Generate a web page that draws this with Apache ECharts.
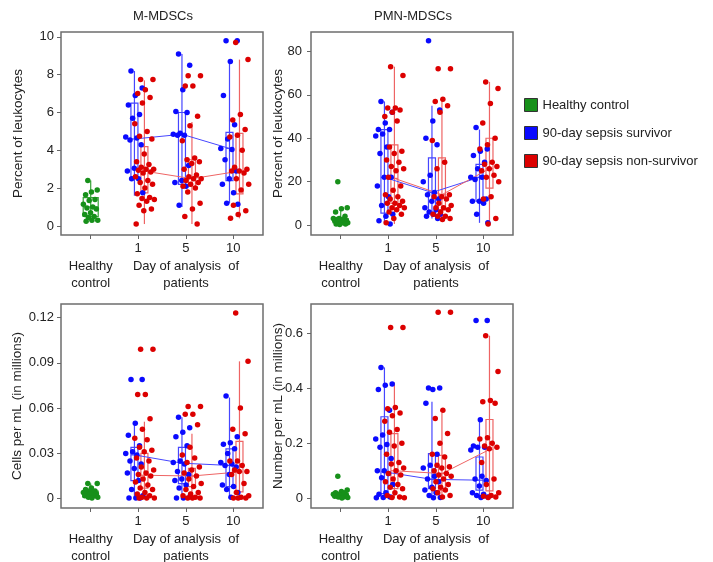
<!DOCTYPE html>
<html>
<head>
<meta charset="utf-8">
<script src="https://cdn.jsdelivr.net/npm/echarts@6/dist/echarts.min.js"></script>
<style>
html, body { margin: 0; background: #fff; }
#chart { width: 713px; height: 562px; }
</style>
</head>
<body>
<div id="chart"></div>
<script>
// group labels on the x axis (healthy + day of analysis)
const groupNames = ['Healthy\ncontrol', '1', '5', '10'];
const xAxisTitle = 'Day of analysis  of\npatients';
const legendNames = ['Healthy control', '90-day sepsis survivor', '90-day sepsis non-survivor'];
const panelTitles = ['M-MDSCs', 'PMN-MDSCs'];
const yNames = ['Percent of leukocytes', 'Percent of leukocytes', 'Cells per mL (in millions)', 'Number per mL (in millions)'];

// y ticks
const ticksA = [0, 2, 4, 6, 8, 10];
const ticksB = [0, 20, 40, 60, 80];
const ticksC = [0, 0.03, 0.06, 0.09, 0.12];
const ticksD = [0, 0.2, 0.4, 0.6];

// ---- M-MDSCs, percent of leukocytes ----
const mPctHealthy = [2.4, 1.9, 1.8, 1.65, 1.4, 1.35, 1.15, 1.0, 0.95, 0.9, 0.7, 0.6, 0.5, 0.45, 0.3, 0.3, 0.25];
const mPctSurv = [
  [8.2, 7.3, 6.9, 6.4, 5.9, 5.7, 4.7, 4.65, 4.55, 4.3, 3.05, 2.9, 2.5, 2.5, 1.75],
  [9.1, 8.5, 7.2, 6.05, 6.0, 4.9, 4.85, 4.8, 4.8, 3.2, 2.4, 2.3, 2.1, 1.1],
  [9.8, 9.8, 8.7, 6.9, 5.35, 4.6, 4.1, 4.05, 3.5, 2.9, 2.5, 2.2, 1.75, 1.2, 1.15]
];
const mPctNon = [
  [7.75, 7.75, 7.2, 7.0, 6.8, 6.5, 5.4, 5.0, 4.75, 4.6, 3.8, 3.4, 3.25, 3.1, 3.0, 3.0, 2.95, 2.85, 2.8, 2.6, 2.4, 2.3, 2.2, 2.0, 1.7, 1.5, 1.45, 1.4, 1.3, 1.1, 0.9, 0.8, 0.1],
  [7.95, 7.95, 7.4, 7.4, 5.8, 5.3, 4.5, 3.6, 3.5, 3.4, 3.3, 3.0, 2.7, 2.6, 2.5, 2.5, 2.4, 2.3, 2.2, 2.1, 2.0, 1.8, 1.2, 0.9, 0.5, 0.1],
  [9.7, 8.8, 5.9, 5.6, 5.1, 4.8, 4.7, 4.0, 3.1, 3.0, 2.9, 2.9, 2.8, 2.5, 2.2, 1.9, 1.1, 0.8, 0.6, 0.4]
];
// boxes: [low, q1, median, q3, high]
const mPctBoxHealthy = [0.2, 0.5, 1.0, 1.5, 2.4];
const mPctBoxSurv = [[1.6, 2.6, 4.6, 6.5, 8.2], [1.0, 2.2, 4.85, 6.0, 9.1], [1.2, 2.4, 4.1, 4.95, 8.8]];
const mPctBoxNon = [[0.1, 1.75, 2.9, 4.2, 7.7], [0.1, 2.1, 2.5, 3.5, 5.5], [0.4, 1.7, 2.9, 4.9, 8.8]];

// ---- PMN-MDSCs, percent of leukocytes ----
const pPctHealthy = [20, 8, 7.5, 6, 4, 3, 3, 2.5, 2.5, 2, 2, 2, 1.5, 1.5, 1, 1, 0.5, 0.5, 0.2];
const pPctSurv = [
  [57, 52, 47, 44, 44, 42, 41, 36, 33, 22, 22, 18, 13, 9, 5, 4, 2, 0.5],
  [85, 53, 48, 40, 37, 23, 20, 15, 14, 12, 11, 8, 7, 6, 5, 5, 4, 3],
  [45, 35, 34, 32, 29, 26, 22, 22, 21, 12, 11, 11, 10, 5, 1]
];
const pPctNon = [
  [73, 69, 54, 54, 53, 52, 50, 48, 36, 34, 33, 30, 29, 27, 26, 25, 22, 18, 16, 14, 13, 12, 11, 10, 10, 9, 8, 8, 7, 6, 5, 3, 1],
  [72, 72, 58, 57, 55, 52, 39, 29, 26, 14, 13, 13, 12, 10, 9, 8, 8, 7, 6, 5, 4, 4, 3, 2.5],
  [66, 63, 56, 47, 40, 37, 35, 29, 28, 27, 26, 25, 23, 22, 20, 13, 12, 3, 0.5]
];
const pPctBoxHealthy = [0.2, 1, 2, 3, 8];
const pPctBoxSurv = [[1, 5.5, 22, 44, 57], [3, 5.5, 15, 31, 55], [1, 11, 22, 28, 44]];
const pPctBoxNon = [[0.5, 10, 21.5, 37, 73], [2.5, 7, 14, 31, 58], [0, 17, 26, 40, 66]];

// ---- M-MDSCs, cells per mL ----
const mAbsHealthy = [0.010, 0.010, 0.007, 0.006, 0.005, 0.005, 0.004, 0.004, 0.003, 0.003, 0.003, 0.002, 0.002, 0.001, 0.001, 0.0005];
const mAbsSurv = [
  [0.079, 0.079, 0.050, 0.042, 0.035, 0.031, 0.030, 0.029, 0.025, 0.023, 0.020, 0.017, 0.012, 0.006, 0.002, 0.0005, 0.0005, 0.0005],
  [0.054, 0.047, 0.044, 0.041, 0.035, 0.025, 0.024, 0.023, 0.018, 0.016, 0.013, 0.012, 0.009, 0.007, 0.002, 0.0005, 0.0005],
  [0.068, 0.041, 0.037, 0.036, 0.033, 0.030, 0.024, 0.023, 0.022, 0.021, 0.016, 0.009, 0.008, 0.006, 0.004, 0.001]
];
const mAbsNon = [
  [0.099, 0.099, 0.069, 0.069, 0.053, 0.046, 0.040, 0.039, 0.034, 0.032, 0.031, 0.027, 0.025, 0.021, 0.019, 0.017, 0.016, 0.015, 0.013, 0.011, 0.009, 0.007, 0.006, 0.004, 0.003, 0.002, 0.001, 0.0005, 0.0005, 0.0005],
  [0.061, 0.061, 0.056, 0.056, 0.049, 0.034, 0.029, 0.027, 0.024, 0.021, 0.019, 0.017, 0.015, 0.013, 0.010, 0.008, 0.006, 0.004, 0.003, 0.002, 0.001, 0.0005, 0.0005, 0.0005],
  [0.123, 0.091, 0.060, 0.046, 0.043, 0.025, 0.025, 0.022, 0.019, 0.018, 0.018, 0.016, 0.010, 0.004, 0.002, 0.001, 0.0005, 0.0005, 0.0005]
];
const mAbsBoxHealthy = [0.0005, 0.001, 0.003, 0.005, 0.010];
const mAbsBoxSurv = [[0, 0.012, 0.029, 0.034, 0.050], [0, 0.010, 0.0235, 0.034, 0.054], [0.001, 0.008, 0.022, 0.033, 0.067]];
const mAbsBoxNon = [[0, 0.007, 0.0155, 0.030, 0.051], [0, 0.008, 0.015, 0.020, 0.043], [0, 0.0045, 0.0177, 0.038, 0.091]];

// ---- PMN-MDSCs, number per mL ----
const pAbsHealthy = [0.08, 0.03, 0.025, 0.02, 0.02, 0.015, 0.015, 0.015, 0.012, 0.01, 0.01, 0.008, 0.006, 0.005, 0.003, 0.001];
const pAbsSurv = [
  [0.475, 0.415, 0.41, 0.395, 0.32, 0.23, 0.215, 0.195, 0.185, 0.145, 0.10, 0.10, 0.09, 0.075, 0.05, 0.02, 0.015, 0.005, 0.003, 0.002],
  [0.40, 0.40, 0.395, 0.345, 0.16, 0.12, 0.11, 0.08, 0.07, 0.06, 0.04, 0.03, 0.02, 0.01, 0.003, 0.002],
  [0.645, 0.645, 0.285, 0.19, 0.185, 0.185, 0.175, 0.08, 0.07, 0.065, 0.045, 0.02, 0.015, 0.01, 0.005, 0.003]
];
const pAbsNon = [
  [0.62, 0.62, 0.33, 0.325, 0.31, 0.30, 0.28, 0.25, 0.24, 0.20, 0.19, 0.16, 0.13, 0.125, 0.11, 0.10, 0.09, 0.085, 0.07, 0.06, 0.05, 0.04, 0.035, 0.02, 0.01, 0.005, 0.003, 0.002],
  [0.675, 0.675, 0.32, 0.29, 0.235, 0.20, 0.16, 0.15, 0.12, 0.115, 0.11, 0.10, 0.09, 0.085, 0.08, 0.07, 0.06, 0.05, 0.04, 0.035, 0.03, 0.02, 0.01, 0.005],
  [0.59, 0.46, 0.355, 0.35, 0.345, 0.22, 0.215, 0.20, 0.19, 0.185, 0.18, 0.13, 0.07, 0.05, 0.02, 0.01, 0.008, 0.005, 0.003]
];
const pAbsBoxHealthy = [0.001, 0.006, 0.012, 0.018, 0.03];
const pAbsBoxSurv = [[0.002, 0.017, 0.096, 0.296, 0.475], [0, 0.035, 0.069, 0.162, 0.35], [0, 0.03, 0.066, 0.15, 0.29]];
const pAbsBoxNon = [[0.002, 0.035, 0.10, 0.235, 0.42], [0.005, 0.029, 0.09, 0.156, 0.31], [0, 0.027, 0.177, 0.286, 0.59]];

const dotColor = { healthy: '#17901a', surv: '#0a0aff', non: '#dc0000' };
const boxColor = { healthy: '#35a335', surv: '#4646ff', non: '#ee6464' };
const SURV_OFF = -0.08, NON_OFF = 0.13;
const dayCenters = [1, 2, 3];

// even spread of the dots around a group centre
function spread(i) {
  const f = (i * 0.618034 + 0.31) % 1;
  return f * 2 - 1;
}
function jitter(values, center, width) {
  return values.map((v, i) => [center + spread(i) * width, v]);
}

function boxSeries(idx, boxes, centers, halfPx, color) {
  return {
    type: 'custom',
    xAxisIndex: idx, yAxisIndex: idx,
    z: 2,
    silent: true,
    data: boxes.map((b, k) => [centers[k]].concat(b)),
    renderItem(params, api) {
      const x = api.value(0);
      const lo = api.coord([x, api.value(1)]);
      const q1 = api.coord([x, api.value(2)]);
      const md = api.coord([x, api.value(3)]);
      const q3 = api.coord([x, api.value(4)]);
      const hi = api.coord([x, api.value(5)]);
      const st = { stroke: color, lineWidth: 1.2, fill: null };
      return {
        type: 'group',
        children: [
          { type: 'line', shape: { x1: lo[0], y1: lo[1], x2: hi[0], y2: hi[1] }, style: st },
          { type: 'rect', shape: { x: q3[0] - halfPx, y: q3[1], width: halfPx * 2, height: q1[1] - q3[1] }, style: st },
          { type: 'line', shape: { x1: md[0] - halfPx, y1: md[1], x2: md[0] + halfPx, y2: md[1] }, style: st }
        ]
      };
    }
  };
}

function panelSeries(idx, healthy, surv, non, bHealthy, bSurv, bNon) {
  const survC = dayCenters.map(d => d + SURV_OFF);
  const nonC = dayCenters.map(d => d + NON_OFF);
  const out = [
    boxSeries(idx, [bHealthy], [0], 7.5, boxColor.healthy),
    boxSeries(idx, bSurv, survC, 3.5, boxColor.surv),
    boxSeries(idx, bNon, nonC, 3.5, boxColor.non),
    {
      type: 'line', xAxisIndex: idx, yAxisIndex: idx, z: 3, silent: true,
      data: survC.map((c, k) => [c, bSurv[k][2]]), symbol: 'none',
      lineStyle: { color: boxColor.surv, width: 1 }
    },
    {
      type: 'line', xAxisIndex: idx, yAxisIndex: idx, z: 3, silent: true,
      data: nonC.map((c, k) => [c, bNon[k][2]]), symbol: 'none',
      lineStyle: { color: boxColor.non, width: 1 }
    },
    {
      type: 'scatter', name: legendNames[0], xAxisIndex: idx, yAxisIndex: idx, z: 4,
      symbolSize: 5.5, itemStyle: { color: dotColor.healthy, opacity: 1 },
      data: jitter(healthy, 0, 0.16)
    }
  ];
  surv.forEach((vals, k) => out.push({
    type: 'scatter', name: legendNames[1], xAxisIndex: idx, yAxisIndex: idx, z: 4,
    symbolSize: 5.5, itemStyle: { color: dotColor.surv, opacity: 1 },
    data: jitter(vals, survC[k], 0.19)
  }));
  non.forEach((vals, k) => out.push({
    type: 'scatter', name: legendNames[2], xAxisIndex: idx, yAxisIndex: idx, z: 4,
    symbolSize: 5.5, itemStyle: { color: dotColor.non, opacity: 1 },
    data: jitter(vals, nonC[k], 0.21)
  }));
  return out;
}

function xAxisFor(idx) {
  return {
    type: 'value', gridIndex: idx, min: -0.625, max: 3.625,
    name: xAxisTitle, nameLocation: 'middle', nameGap: 23, nameMoveOverlap: false,
    nameTextStyle: { fontSize: 13, color: '#222', lineHeight: 17, padding: [0, 0, 0, 48] },
    axisLine: { show: false, onZero: false },
    splitLine: { show: false },
    axisTick: { show: true, customValues: [0, 1, 2, 3], length: 4, lineStyle: { color: '#666' } },
    axisLabel: {
      customValues: [0, 1, 2, 3],
      formatter: v => {
        const k = Math.round(v);
        return k === 0 ? '\n' + groupNames[0] : groupNames[k];
      },
      fontSize: 13, lineHeight: 17.5, color: '#222', margin: 5, hideOverlap: false
    }
  };
}

function yAxisFor(idx, min, max, ticks, gap, margin) {
  return {
    type: 'value', gridIndex: idx, min: min, max: max,
    name: yNames[idx], nameLocation: 'middle', nameGap: gap, nameMoveOverlap: false,
    nameTextStyle: { fontSize: 13.5, color: '#222' },
    axisLine: { show: false, onZero: false },
    splitLine: { show: false },
    axisTick: { show: true, customValues: ticks, length: 4, lineStyle: { color: '#666' } },
    axisLabel: { customValues: ticks, fontSize: 13, color: '#222', margin: margin }
  };
}

const gridBase = {
  show: true, borderColor: '#6e6e6e', borderWidth: 1.5, backgroundColor: 'transparent',
  containLabel: false, outerBoundsMode: 'none'
};

const chart = echarts.init(document.getElementById('chart'));
chart.setOption({
  animation: false,
  textStyle: { fontFamily: 'Liberation Sans, Arial, sans-serif' },
  title: [
    { text: panelTitles[0], left: 163, top: 10, textAlign: 'center', padding: 0,
      textStyle: { fontSize: 13, fontWeight: 'normal', color: '#222' } },
    { text: panelTitles[1], left: 413, top: 10, textAlign: 'center', padding: 0,
      textStyle: { fontSize: 13, fontWeight: 'normal', color: '#222' } }
  ],
  legend: {
    orient: 'vertical', left: 524, top: 98, padding: 0,
    itemWidth: 13, itemHeight: 13, itemGap: 14, icon: 'rect',
    data: legendNames,
    itemStyle: { borderColor: '#333', borderWidth: 1 },
    textStyle: { fontSize: 13, color: '#222' }
  },
  grid: [
    Object.assign({ left: 61, top: 32, width: 202, height: 203 }, gridBase),
    Object.assign({ left: 311, top: 32, width: 202, height: 203 }, gridBase),
    Object.assign({ left: 61, top: 304, width: 202, height: 204 }, gridBase),
    Object.assign({ left: 311, top: 304, width: 202, height: 204 }, gridBase)
  ],
  xAxis: [xAxisFor(0), xAxisFor(1), xAxisFor(2), xAxisFor(3)],
  yAxis: [
    yAxisFor(0, -0.48, 10.26, ticksA, 36, 7),
    yAxisFor(1, -4.6, 89, ticksB, 26, 9),
    yAxisFor(2, -0.0062, 0.129, ticksC, 37, 7),
    yAxisFor(3, -0.035, 0.705, ticksD, 26, 8)
  ],
  series: [].concat(
    panelSeries(0, mPctHealthy, mPctSurv, mPctNon, mPctBoxHealthy, mPctBoxSurv, mPctBoxNon),
    panelSeries(1, pPctHealthy, pPctSurv, pPctNon, pPctBoxHealthy, pPctBoxSurv, pPctBoxNon),
    panelSeries(2, mAbsHealthy, mAbsSurv, mAbsNon, mAbsBoxHealthy, mAbsBoxSurv, mAbsBoxNon),
    panelSeries(3, pAbsHealthy, pAbsSurv, pAbsNon, pAbsBoxHealthy, pAbsBoxSurv, pAbsBoxNon)
  )
});
</script>
</body>
</html>
